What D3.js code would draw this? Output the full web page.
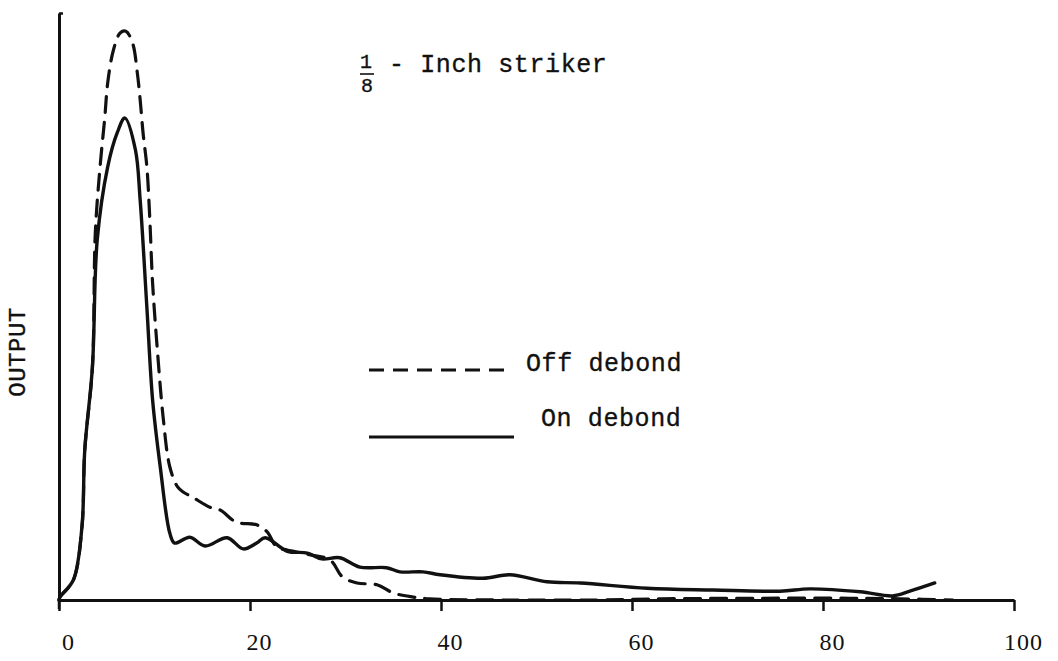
<!DOCTYPE html>
<html>
<head>
<meta charset="utf-8">
<script src="https://cdn.jsdelivr.net/npm/d3@7"></script>
<style>
  html, body { margin: 0; padding: 0; background: #fff; }
  svg { display: block; }
  text { font-family: "Liberation Mono", "DejaVu Sans Mono", monospace; fill: #111; }
</style>
</head>
<body>
<svg id="chart" width="1058" height="661"></svg>
<script>
// ---- data ----
const xTicks = [0, 20, 40, 60, 80, 100];
const yDomain = [0, 100];
const xDomain = [0, 100];

// "On debond" (solid)
const onX = [0, 0.1, 1.5, 2.4, 2.7, 3.5, 4.0, 5.1, 6.1, 6.9, 8.0, 8.5, 9.2, 9.8, 10.6, 11.6, 12.1, 13.7, 15.3, 17.6, 19.3, 20.7, 21.6, 23.9, 26.0, 27.5, 29.4, 31.5, 34.3, 35.7, 38.1, 39.9, 44.4, 47.2, 51.1, 54.6, 61.6, 68.5, 75.5, 78.6, 83.9, 87.3, 89.1, 91.7];
const onY = [0, 0.5, 3.4, 12.4, 25.6, 39.7, 61.3, 73.8, 79.6, 82.1, 76.7, 68.1, 49.9, 34.1, 22.7, 11.4, 9.7, 10.7, 9.2, 10.6, 8.7, 9.7, 10.6, 8.3, 8.0, 7.0, 7.2, 5.6, 5.5, 4.8, 4.8, 4.3, 3.7, 4.3, 3.1, 2.9, 2.0, 1.7, 1.5, 1.9, 1.4, 0.7, 1.5, 2.9];

// "Off debond" (dashed)
const offX = [0, 0.1, 1.5, 2.4, 2.7, 3.5, 3.8, 4.3, 4.8, 5.1, 5.7, 6.4, 7.0, 7.7, 8.2, 8.5, 8.8, 9.2, 9.5, 9.8, 10.3, 10.9, 11.6, 12.4, 13.0, 14.0, 15.8, 16.9, 18.2, 19.0, 20.7, 21.8, 22.8, 23.9, 26.0, 28.4, 29.7, 31.2, 33.3, 35.0, 37.1, 38.8, 46.2, 56.6, 63.2, 73.4, 82.8, 88.1, 93.6];
const offY = [0, 0.5, 3.4, 12.4, 25.6, 39.7, 62.5, 73.8, 82.3, 88.1, 93.7, 96.6, 96.9, 94.9, 89.8, 85.2, 79.6, 73.8, 65.2, 54.0, 42.6, 31.2, 22.7, 19.3, 18.4, 17.5, 15.8, 15.3, 13.6, 13.1, 12.8, 11.6, 9.0, 8.5, 7.8, 6.8, 3.9, 2.9, 2.6, 1.2, 0.5, 0.2, 0, 0, 0.2, 0.3, 0.3, 0.2, 0];

const seriesNames = ["Off debond", "On debond"];
const yLabel = "OUTPUT";
const titleNum = "1", titleDen = "8", titleRest = "- Inch striker";

// ---- drawing ----
const svg = d3.select("#chart");
const ink = "#111";
const x = d3.scaleLinear().domain(xDomain).range([59, 1014]);
const y = d3.scaleLinear().domain(yDomain).range([600, 13]);

// x axis
const xAxis = svg.append("g")
  .attr("transform", `translate(0,${y(0)})`)
  .call(d3.axisBottom(x).tickValues(xTicks).tickSize(11).tickSizeOuter(0).tickPadding(22));
xAxis.select(".domain").attr("stroke", ink).attr("stroke-width", 3);
xAxis.selectAll(".tick line").attr("stroke", ink).attr("stroke-width", 2.5);
xAxis.selectAll(".tick text")
  .attr("dx", 9)
  .style("font-size", "24px")
  .style("letter-spacing", "1px")
  .style("font-family", "'Liberation Serif', serif")
  .attr("fill", ink);

// y axis (no labels, small serif at top)
const yAxis = svg.append("g")
  .attr("transform", `translate(${x(0)},0)`)
  .call(d3.axisRight(y).tickValues([yDomain[1]]).tickSize(4).tickSizeOuter(0).tickFormat(""));
yAxis.select(".domain").attr("stroke", ink).attr("stroke-width", 3);
yAxis.selectAll(".tick line").attr("stroke", ink).attr("stroke-width", 2.5);
svg.append("line")
  .attr("x1", x(0)).attr("x2", x(0))
  .attr("y1", y(0)).attr("y2", y(0) + 9)
  .attr("stroke", ink).attr("stroke-width", 2.5);

// curves
const line = d3.line()
  .x(d => x(d[0])).y(d => y(d[1]))
  .curve(d3.curveCatmullRom.alpha(0.5));

const offData = offX.map((v, i) => [v, offY[i]]);
const onData = onX.map((v, i) => [v, onY[i]]);

svg.append("path").datum(offData)
  .attr("d", line)
  .attr("fill", "none").attr("stroke", ink)
  .attr("stroke-width", 3.2)
  .attr("stroke-dasharray", "16,10")
  .attr("stroke-linecap", "round");

svg.append("path").datum(onData)
  .attr("d", line)
  .attr("fill", "none").attr("stroke", ink)
  .attr("stroke-width", 3.4)
  .attr("stroke-linejoin", "round")
  .attr("stroke-linecap", "round");

// text styling helper
function typed(sel, size, ls) {
  return sel.style("font-size", size).style("letter-spacing", ls)
    .attr("stroke", ink).attr("stroke-width", 0.35);
}

// title with fraction
typed(svg.append("text").attr("x", 366).attr("y", 68).attr("text-anchor", "middle"), "20px", "0px").text(titleNum);
svg.append("line").attr("x1", 360).attr("x2", 374).attr("y1", 74).attr("y2", 74)
  .attr("stroke", ink).attr("stroke-width", 1.6);
typed(svg.append("text").attr("x", 367).attr("y", 92).attr("text-anchor", "middle"), "20px", "0px").text(titleDen);
typed(svg.append("text").attr("x", 389).attr("y", 72), "25px", "0.6px").text(titleRest);

// legend
const leg = svg.append("g");
leg.append("line").attr("x1", 369).attr("x2", 507).attr("y1", 370).attr("y2", 370)
  .attr("stroke", ink).attr("stroke-width", 3).attr("stroke-dasharray", "15,9");
typed(leg.append("text").attr("x", 526).attr("y", 371), "25px", "0.6px").text(seriesNames[0]);
leg.append("line").attr("x1", 369).attr("x2", 514).attr("y1", 437).attr("y2", 437)
  .attr("stroke", ink).attr("stroke-width", 3);
typed(leg.append("text").attr("x", 541).attr("y", 426), "25px", "0.6px").text(seriesNames[1]);

// y label
typed(svg.append("text")
  .attr("transform", "translate(25,352) rotate(-90)")
  .attr("text-anchor", "middle"), "24px", "0.5px")
  .text(yLabel);
</script>
</body>
</html>
